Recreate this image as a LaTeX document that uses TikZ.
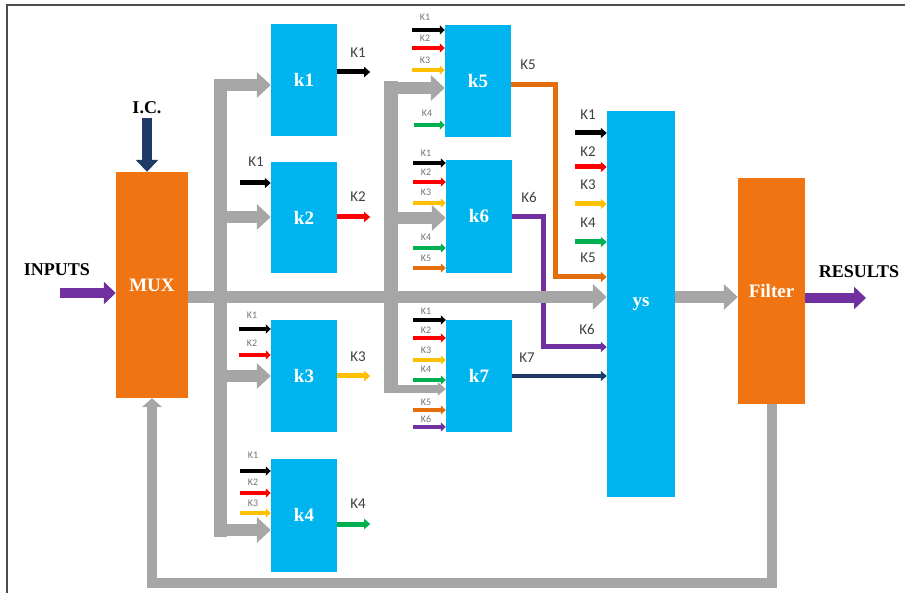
\documentclass[tikz,border=0pt]{standalone}
\usepackage{fontspec}
\setmainfont{Liberation Serif}
\newfontfamily\klabelfont{Carlito}
\usetikzlibrary{arrows.meta}

\definecolor{kcyan}{RGB}{0,180,240}
\definecolor{korange}{RGB}{240,117,18}
\definecolor{kline}{RGB}{228,110,12}
\definecolor{kgray}{RGB}{166,166,166}
\definecolor{kpurple}{RGB}{112,48,160}
\definecolor{knavy}{RGB}{32,58,104}
\definecolor{kyellow}{RGB}{255,192,0}
\definecolor{kgreen}{RGB}{0,176,80}
\definecolor{kred}{RGB}{255,0,0}

\tikzset{
  kbox/.style={fill=kcyan, minimum width=66pt, inner sep=0pt, text=white,
    font=\fontsize{19}{19}\selectfont\bfseries},
  orbox/.style={kbox, fill=korange},
  bus/.style={draw=kgray, line width=13pt},
  busarrow/.style={draw=kgray, line width=12pt, -{Triangle[length=14pt,width=25pt]}},
  fat/.style={line width=10pt, -{Triangle[length=12pt,width=22pt]}},
  kin/.style={line width=4pt, -{Triangle[length=5pt,width=9pt]}},
  kout/.style={line width=5pt, -{Triangle[length=6pt,width=10pt]}},
  klab/.style={font=\klabelfont\fontsize{15}{15}\selectfont, text=black!75},
  tinylab/.style={font=\klabelfont\fontsize{10}{10}\selectfont, text=black!55},
  biglab/.style={font=\fontsize{18}{18}\selectfont\bfseries},
}

\begin{document}
\begin{tikzpicture}[x=1pt, y=-1pt]
\useasboundingbox (0,0) rectangle (905,593);
% frame
\draw[line width=2pt, black!70] (905,5) -- (7,5) -- (7,593);

% the blocks
\node[orbox, minimum width=72pt, minimum height=226pt] (mux) at (152,285) {MUX};
\node[kbox, minimum height=112pt] (k1) at (304,80) {k1};
\node[kbox, minimum height=111pt] (k2) at (304,217.5) {k2};
\node[kbox, minimum height=112pt] (k3) at (304,376) {k3};
\node[kbox, minimum height=113pt] (k4) at (304,515) {k4};
\node[kbox, minimum height=112pt] (k5) at (478,81) {k5};
\node[kbox, minimum height=113pt] (k6) at (479,216.5) {k6};
\node[kbox, minimum height=112pt] (k7) at (479,376) {k7};
\node[kbox, minimum width=68pt, minimum height=386pt] (ys) at (641,304) {ys};
\node[orbox, minimum width=67pt, minimum height=226pt] (filter) at (771.5,291) {Filter};

% outside texts
\node[biglab] (ic) at (147,108) {I.C.};
\node[biglab] (inputs) at (57,270) {INPUTS};
\node[biglab] (results) at (859,272) {RESULTS};
\coordinate (busy) at (0,297);
\coordinate (fb) at (0,583);
\coordinate (in) at (60,293);
\coordinate (out) at (866,298);

% input, initial conditions and result
\draw[fat, draw=knavy] (ic.south) -- (ic.south |- mux.north);
\draw[fat, draw=kpurple] (in) -- (in -| mux.west);
\draw[fat, draw=kpurple] (out -| filter.east) -- (out);

% coloured outputs of k5, k6 and k7
\draw[kout, draw=kline] (k5.east |- 0,85) -- (555,85) -- (555,277) -- (ys.west |- 0,277);
\draw[kout, draw=kpurple] (k6.east |- 0,217) -- (543,217) -- (543,347) -- (ys.west |- 0,347);
\draw[kout, draw=knavy, line width=4pt] (k7.east |- 0,376) -- (ys.west |- 0,376);

% gray buses
\draw[busarrow] (mux.east |- busy) -- (ys.west |- busy);
\draw[bus] (220,79) -- (220,537);
\draw[busarrow] (220,85) -- (220,85 -| k1.west);
\draw[busarrow] (220,217) -- (220,217 -| k2.west);
\draw[busarrow] (220,376) -- (220,376 -| k3.west);
\draw[busarrow] (220,530) -- (220,530 -| k4.west);
\draw[bus, line width=14pt] (391,81) -- (391,393);
\draw[busarrow] (391,88) -- (391,88 -| k5.west);
\draw[busarrow] (391,218) -- (391,218 -| k6.west);
\draw[busarrow, line width=8pt, -{Triangle[length=8pt,width=13pt]}] (391,389) -- (391,389 -| k7.west);
\draw[busarrow] (ys.east |- busy) -- (filter.west |- busy);
\draw[draw=kgray, line width=10pt, -{Triangle[length=9pt,width=20pt]}]
  (filter.south) -- (filter.south |- fb) -- (mux.south |- fb) -- (mux.south);

% outputs k1 .. k4
\draw[kout, draw=black] (k1.east |- 0,72) -- ++(33,0);
\node[klab] at (358,53) {K1};
\draw[kout, draw=kred] (k2.east |- 0,217) -- ++(33,0);
\node[klab] at (358,197) {K2};
\draw[kout, draw=kyellow] (k3.east |- 0,376) -- ++(33,0);
\node[klab] at (358,357) {K3};
\draw[kout, draw=kgreen] (k4.east |- 0,524) -- ++(33,0);
\node[klab] at (358,504) {K4};
\node[klab] at (528,65) {K5};
\node[klab] at (529,197) {K6};
\node[klab] at (527,358) {K7};

% inputs of ys
\draw[kout, draw=black] (575,133) -- (575,133 -| ys.west);
\node[klab] at (588,115) {K1};
\draw[kout, draw=kred] (575,167) -- (575,167 -| ys.west);
\node[klab] at (588,152) {K2};
\draw[kout, draw=kyellow] (575,204) -- (575,204 -| ys.west);
\node[klab] at (588,185) {K3};
\draw[kout, draw=kgreen] (575,242) -- (575,242 -| ys.west);
\node[klab] at (588,223) {K4};
\node[klab] at (588,258) {K5};
\node[klab] at (587,329) {K6};

% inputs of k2, k3, k4
\draw[kout, draw=black] (240,183) -- (240,183 -| k2.west);
\node[klab] at (256,162) {K1};
\draw[kin, draw=black] (239,329) -- (239,329 -| k3.west);
\node[tinylab] at (252,315) {K1};
\draw[kin, draw=kred] (239,355) -- (239,355 -| k3.west);
\node[tinylab] at (252,343) {K2};
\draw[kin, draw=black] (240,471) -- (240,471 -| k4.west);
\node[tinylab] at (253,455) {K1};
\draw[kin, draw=kred] (240,493) -- (240,493 -| k4.west);
\node[tinylab] at (253,482) {K2};
\draw[kin, draw=kyellow] (240,513) -- (240,513 -| k4.west);
\node[tinylab] at (253,503) {K3};

% inputs of k5
\draw[kin, draw=black] (412,30) -- (412,30 -| k5.west);
\node[tinylab] at (425,17) {K1};
\draw[kin, draw=kred] (412,48) -- (412,48 -| k5.west);
\node[tinylab] at (425,38) {K2};
\draw[kin, draw=kyellow] (412,70) -- (412,70 -| k5.west);
\node[tinylab] at (425,60) {K3};
\draw[kin, draw=kgreen] (414,125) -- (414,125 -| k5.west);
\node[tinylab] at (427,113) {K4};

% inputs of k6
\draw[kin, draw=black] (413,163) -- (413,163 -| k6.west);
\node[tinylab] at (426,153) {K1};
\draw[kin, draw=kred] (413,182) -- (413,182 -| k6.west);
\node[tinylab] at (426,172) {K2};
\draw[kin, draw=kyellow] (413,203) -- (413,203 -| k6.west);
\node[tinylab] at (426,192) {K3};
\draw[kin, draw=kgreen] (413,248) -- (413,248 -| k6.west);
\node[tinylab] at (426,237) {K4};
\draw[kin, draw=kline] (413,268) -- (413,268 -| k6.west);
\node[tinylab] at (426,258) {K5};

% inputs of k7
\draw[kin, draw=black] (413,320) -- (413,320 -| k7.west);
\node[tinylab] at (426,311) {K1};
\draw[kin, draw=kred] (413,338) -- (413,338 -| k7.west);
\node[tinylab] at (426,330) {K2};
\draw[kin, draw=kyellow] (413,360) -- (413,360 -| k7.west);
\node[tinylab] at (426,350) {K3};
\draw[kin, draw=kgreen] (413,380) -- (413,380 -| k7.west);
\node[tinylab] at (426,369) {K4};
\draw[kin, draw=kline] (413,410) -- (413,410 -| k7.west);
\node[tinylab] at (426,402) {K5};
\draw[kin, draw=kpurple] (413,427) -- (413,427 -| k7.west);
\node[tinylab] at (426,419) {K6};
\end{tikzpicture}
\end{document}
